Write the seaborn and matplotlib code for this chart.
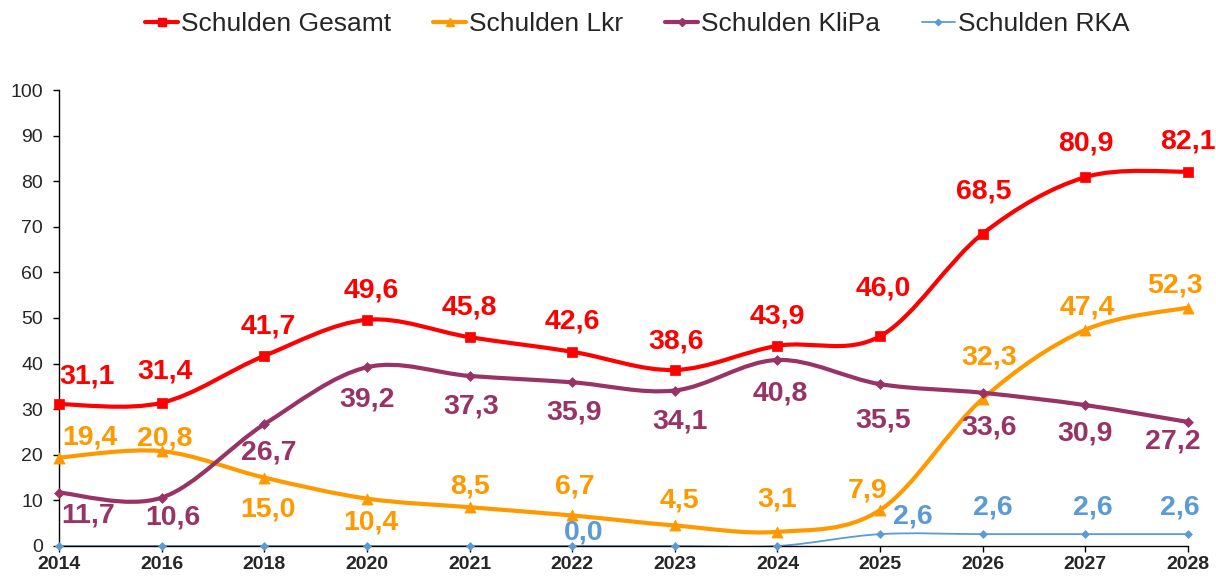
import numpy as np
import pandas as pd
import matplotlib.pyplot as plt
import seaborn as sns
from matplotlib.path import Path
from matplotlib.patches import PathPatch
from matplotlib.lines import Line2D

# Daten
years = ['2014', '2016', '2018', '2020', '2021', '2022',
         '2023', '2024', '2025', '2026', '2027', '2028']
gesamt = [31.1, 31.4, 41.7, 49.6, 45.8, 42.6, 38.6, 43.9, 46.0, 68.5, 80.9, 82.1]
lkr = [19.4, 20.8, 15.0, 10.4, 8.5, 6.7, 4.5, 3.1, 7.9, 32.3, 47.4, 52.3]
klipa = [11.7, 10.6, 26.7, 39.2, 37.3, 35.9, 34.1, 40.8, 35.5, 33.6, 30.9, 27.2]
rka = [0.0, 0.0, 0.0, 0.0, 0.0, 0.0, 0.0, 0.0, 2.6, 2.6, 2.6, 2.6]
names = ['Schulden Gesamt', 'Schulden Lkr', 'Schulden KliPa', 'Schulden RKA']

# Stil je Reihe
colors = ['#FF0000', '#FF9900', '#993366', '#5B9BD5']
markers = ['s', '^', 'D', 'D']
msizes = [7.5, 8, 5, 4]
lwidths = [3.0, 3.0, 3.0, 1.3]

# Versatz der Datenbeschriftungen (Pixel)
offsets = [
    [(28, 28), (3, 31), (4, 29), (4, 29), (0, 30), (0, 30), (1, 28), (0, 29), (3, 48), (1, 42), (0, 34), (0, 30)],
    [(31, 20), (3, 13), (4, -32), (4, -24), (0, 21), (3, 29), (5, 25), (0, 32), (-13, 19), (6, 41), (2, 22), (-13, 22)],
    [(29, -23), (11, -20), (4, -28), (0, -32), (2, -31), (2, -30), (5, -31), (3, -34), (3, -36), (6, -35), (0, -28), (-15, -20)],
    [None, None, None, None, None, (11, 13), None, None, (33, 18), (10, 27), (7, 27), (-8, 27)],
]

sns.set_theme(style='white')
plt.rcParams['font.family'] = ['Liberation Sans', 'DejaVu Sans']


def smooth_path(vals):
    # geglättete Linie wie in Excel (Bezier)
    pts = np.column_stack([np.arange(len(vals)), np.asarray(vals, float)])
    n = len(pts)
    verts = [pts[0]]
    codes = [Path.MOVETO]
    for i in range(n - 1):
        p0 = pts[max(i - 1, 0)]
        p1 = pts[i]
        p2 = pts[i + 1]
        p3 = pts[min(i + 2, n - 1)]
        verts += [p1 + (p2 - p0) / 6, p2 - (p3 - p1) / 6, p2]
        codes += [Path.CURVE4] * 3
    return Path(verts, codes)


fig = plt.figure(figsize=(12.16, 5.78), dpi=100)
ax = fig.add_axes([59 / 1216, 32 / 578, 1129 / 1216, 456 / 578])

series = [gesamt, lkr, klipa, rka]
order = [3, 2, 1, 0]
for k in order:
    vals = series[k]
    ax.add_patch(PathPatch(smooth_path(vals), facecolor='none', edgecolor=colors[k],
                           lw=lwidths[k], zorder=2 + k * 0.1, capstyle='round'))
    df = pd.DataFrame({'x': np.arange(len(years)), 'y': vals})
    sns.scatterplot(data=df, x='x', y='y', ax=ax, marker=markers[k], s=msizes[k] ** 2,
                    color=colors[k], edgecolor=colors[k], linewidth=0.5,
                    zorder=3 + k * 0.1, clip_on=False, legend=False)

for k in range(4):
    for i, v in enumerate(series[k]):
        off = offsets[k][i]
        if off is None:
            continue
        ax.annotate(f'{v:.1f}'.replace('.', ','), (i, v), xytext=off,
                    textcoords='offset pixels', ha='center', va='center',
                    fontsize=20.5, fontweight='bold', color=colors[k], zorder=5)

ax.set_xlim(0, len(years) - 1)
ax.set_ylim(0, 100)
ax.set_xticks(np.arange(len(years)))
ax.set_xticklabels(years, fontweight='bold', fontsize=14)
ax.set_yticks(np.arange(0, 101, 10))
ax.tick_params(axis='y', labelsize=14, left=True, length=4.5, width=1, color='black', pad=7)
ax.tick_params(axis='x', bottom=True, length=4, width=1, color='black', pad=3)
ax.set_xlabel('')
ax.set_ylabel('')
for side in ['top', 'right']:
    ax.spines[side].set_visible(False)
for side in ['left', 'bottom']:
    ax.spines[side].set_color('black')
    ax.spines[side].set_linewidth(1)

handles = [Line2D([0], [0], color=colors[k], lw=lwidths[k], marker=markers[k],
                  markersize=msizes[k] * 0.8, markeredgecolor=colors[k]) for k in range(4)]
fig.legend(handles, names, loc='center', bbox_to_anchor=(0.524, 0.958), ncol=4,
           frameon=False, fontsize=19, handlelength=1.25, handletextpad=0.1,
           columnspacing=1.6)

fig.savefig('out.png', dpi=100)
